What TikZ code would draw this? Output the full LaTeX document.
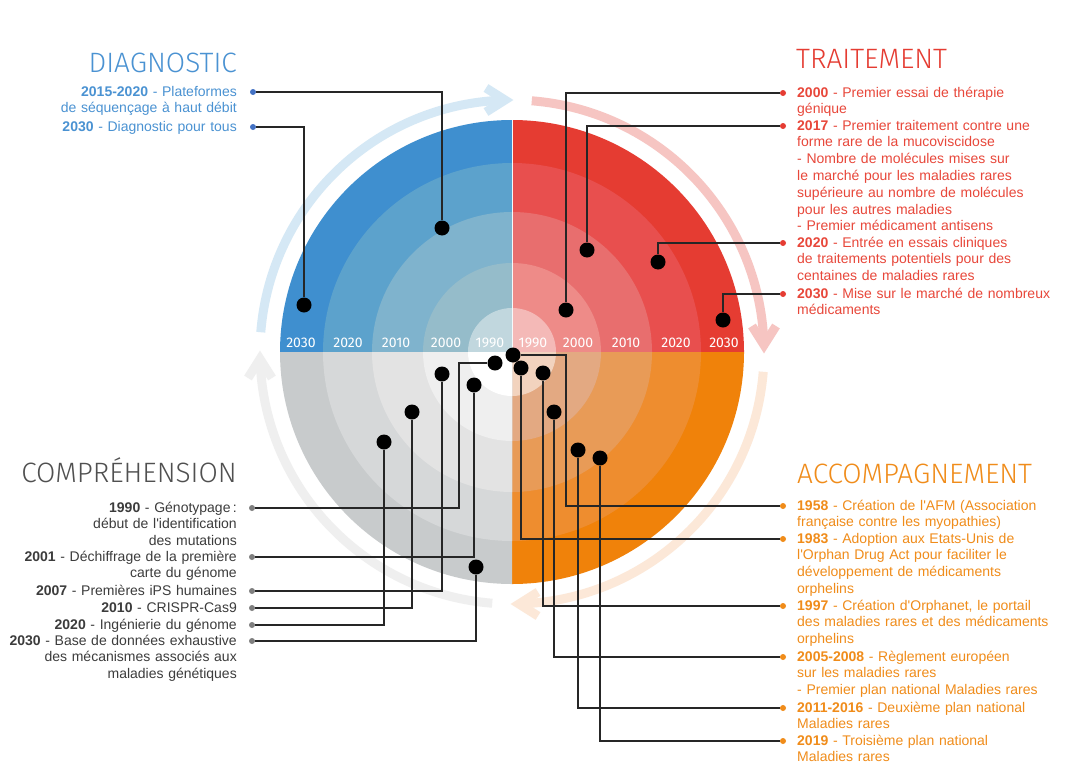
\documentclass[tikz,border=0pt]{standalone}
\usepackage{fontspec}
\setmainfont{Liberation Sans}
\newfontfamily\titrefont{Fira Sans Light}
\newfontfamily\anneefont{Fira Sans}

\definecolor{bleu1}{HTML}{C1D7DE}
\definecolor{bleu2}{HTML}{95BCCA}
\definecolor{bleu3}{HTML}{7FB3CD}
\definecolor{bleu4}{HTML}{5CA2CC}
\definecolor{bleu5}{HTML}{3F8FCF}
\definecolor{rouge1}{HTML}{F4B9B7}
\definecolor{rouge2}{HTML}{EE8B88}
\definecolor{rouge3}{HTML}{E86E6E}
\definecolor{rouge4}{HTML}{E84F4E}
\definecolor{rouge5}{HTML}{E53C32}
\definecolor{orange1}{HTML}{F2D3BE}
\definecolor{orange2}{HTML}{E3A982}
\definecolor{orange3}{HTML}{E89B57}
\definecolor{orange4}{HTML}{EE8D2F}
\definecolor{orange5}{HTML}{F0820A}
\definecolor{gris1}{HTML}{FFFFFF}
\definecolor{gris2}{HTML}{EFEFEF}
\definecolor{gris3}{HTML}{E3E3E3}
\definecolor{gris4}{HTML}{D6D8D9}
\definecolor{gris5}{HTML}{C8CBCC}
\definecolor{fbleu}{HTML}{D5E8F5}
\definecolor{frouge}{HTML}{F6C5C2}
\definecolor{forange}{HTML}{FCE8D8}
\definecolor{fgris}{HTML}{EFEFEF}
\definecolor{tbleu}{HTML}{4A92D2}
\definecolor{trouge}{HTML}{E8473A}
\definecolor{torange}{HTML}{F08C1A}
\definecolor{tgris}{HTML}{3C3C3C}
\definecolor{pbleu}{HTML}{4472C4}
\definecolor{pgris}{HTML}{7F7F7F}

\newcommand{\apos}{\textquotesingle}

\tikzset{
  point/.style={circle, fill=black, inner sep=0pt, minimum size=15pt},
  puce/.style={circle, inner sep=0pt, minimum size=6pt},
  lien/.style={draw=black!85, line width=1.1pt},
  titre/.style={font=\titrefont\fontsize{28}{30}\selectfont, inner sep=0pt},
  texte/.style={font=\fontsize{14}{16.8}\selectfont, inner sep=0pt, text width=300pt},
  texteg/.style={texte, anchor=base east, align=right},
  texted/.style={texte, anchor=base west, align=left},
  annee/.style={font=\anneefont\fontsize{14}{14}\selectfont, text=white, inner sep=0pt, anchor=base},
  fleche/.style={line width=9pt}
}

\begin{document}
\begin{tikzpicture}[x=1pt, y=1pt]

    \fill[white] (0,0) rectangle (1070,-779);
    \useasboundingbox (0,0) rectangle (1070,-779);
    \coordinate (c) at (512,-352);

    % quarts de disque
    \foreach \q/\a in {bleu/90, rouge/0, orange/-90, gris/180} {
        \foreach \i/\r in {5/232, 4/189, 3/140, 2/89, 1/44} {
            \fill[\q\i] (c) -- ++(\a:\r) arc[start angle=\a, end angle=\a+90, radius=\r] -- cycle;
        }
    }
    \draw[white!85!bleu1, line width=0.6pt] (c) -- ++(0,232);

    % fleches autour
    \foreach \col/\a in {fbleu/180, frouge/90, forange/0, fgris/-90} {
        \draw[fleche, \col] (c) ++(\a-4.5:252) arc[start angle=\a-4.5, end angle=\a-88, radius=252];
        \draw[fleche, \col, shift={(c)}, shift={(\a-90:252)}, rotate=\a-180] (-26,12) -- (-7,0) -- (-26,-12);
    }

    % annees
    \foreach \an/\d in {2030/211, 2020/164, 2010/116, 2000/66, 1990/22} {
        \node[annee] (g\an) at (512-\d,-347) {\an};
    }
    \foreach \an/\d in {1990/21, 2000/66, 2010/114, 2020/164, 2030/212} {
        \node[annee] (d\an) at (512+\d,-347) {\an};
    }

    % titres
    \node[titre, anchor=base east, text=tbleu] (diag) at (237,-72) {DIAGNOSTIC};
    \node[titre, anchor=base west, text=rouge5] (trait) at (796,-68) {TRAITEMENT};
    \node[titre, anchor=base east, text=tgris!90] (compr) at (237,-482) {COMPRÉHENSION};
    \node[titre, anchor=base west, text=torange] (accomp) at (797,-483) {ACCOMPAGNEMENT};

    % textes
    \node[texteg, text=tbleu] (b1) at (237,-96)
        {\textbf{2015-2020} - Plateformes\\de séquençage à haut débit};
    \node[texteg, text=tbleu] (b2) at (237,-131)
        {\textbf{2030} - Diagnostic pour tous};

    \node[texted, text=trouge] (r1) at (797,-97)
        {\textbf{2000} - Premier essai de thérapie\\génique};
    \node[texted, text=trouge] (r2) at (797,-130)
        {\textbf{2017} - Premier traitement contre une\\forme rare de la mucoviscidose\\- Nombre de molécules mises sur\\le marché pour les maladies rares\\supérieure au nombre de molécules\\pour les autres maladies\\- Premier médicament antisens};
    \node[texted, text=trouge] (r3) at (797,-247)
        {\textbf{2020} - Entrée en essais cliniques\\de traitements potentiels pour des\\centaines de maladies rares};
    \node[texted, text=trouge] (r4) at (797,-298)
        {\textbf{2030} - Mise sur le marché de nombreux\\médicaments};

    \node[texted, text=torange] (o1) at (797,-510)
        {\textbf{1958} - Création de l\apos AFM (Association\\française contre les myopathies)};
    \node[texted, text=torange] (o2) at (797,-543)
        {\textbf{1983} - Adoption aux Etats-Unis de\\l\apos Orphan Drug Act pour faciliter le\\développement de médicaments\\orphelins};
    \node[texted, text=torange] (o3) at (797,-610)
        {\textbf{1997} - Création d\apos Orphanet, le portail\\des maladies rares et des médicaments\\orphelins};
    \node[texted, text=torange] (o4) at (797,-661)
        {\textbf{2005-2008} - Règlement européen\\sur les maladies rares\\- Premier plan national Maladies rares};
    \node[texted, text=torange] (o5) at (797,-712)
        {\textbf{2011-2016} - Deuxième plan national\\Maladies rares};
    \node[texted, text=torange] (o6) at (797,-745)
        {\textbf{2019} - Troisième plan national\\Maladies rares};

    \node[texteg, text=tgris] (g1) at (237,-512)
        {\textbf{1990} - Génotypage\,:\\début de l\apos identification\\des mutations};
    \node[texteg, text=tgris] (g2) at (237,-561)
        {\textbf{2001} - Déchiffrage de la première\\carte du génome};
    \node[texteg, text=tgris] (g3) at (237,-595)
        {\textbf{2007} - Premières iPS humaines};
    \node[texteg, text=tgris] (g4) at (237,-612)
        {\textbf{2010} - CRISPR-Cas9};
    \node[texteg, text=tgris] (g5) at (237,-629)
        {\textbf{2020} - Ingénierie du génome};
    \node[texteg, text=tgris] (g6) at (237,-645)
        {\textbf{2030} - Base de données exhaustive\\des mécanismes associés aux\\maladies génétiques};

    % points et liens
    \foreach \nom/\y/\x/\yy in {1/92/442/228, 2/127/304/305} {
        \node[puce, fill=pbleu] (pb\nom) at (253,-\y) {};
        \node[point] (db\nom) at (\x,-\yy) {};
        \draw[lien] (pb\nom) -| (db\nom);
    }
    \foreach \nom/\y/\x/\yy in {1/93/566/310, 2/126/587/250, 3/243/658/262, 4/294/723/320} {
        \node[puce, fill=rouge5] (pr\nom) at (783,-\y) {};
        \node[point] (dr\nom) at (\x,-\yy) {};
        \draw[lien] (pr\nom) -| (dr\nom);
    }
    \foreach \nom/\y/\x/\yy in {2/539/521/368, 3/606/543/373, 4/657/554/412, 5/708/578/450, 6/741/600/458} {
        \node[puce, fill=torange] (po\nom) at (783,-\y) {};
        \node[point] (do\nom) at (\x,-\yy) {};
        \draw[lien] (po\nom) -| (do\nom);
    }
    \foreach \nom/\y/\x/\yy in {2/557/474/385, 3/591/442/374, 4/608/412/412, 5/625/384/442, 6/641/476/567} {
        \node[puce, fill=pgris] (pg\nom) at (252,-\y) {};
        \node[point] (dg\nom) at (\x,-\yy) {};
        \draw[lien] (pg\nom) -| (dg\nom);
    }

    \node[puce, fill=torange] (po1) at (783,-506) {};
    \node[point] (do1) at (513,-355) {};
    \coordinate (ko1) at (566,-355);
    \draw[lien] (po1) -| (ko1) -- (do1);

    \node[puce, fill=pgris] (pg1) at (252,-508) {};
    \node[point] (dg1) at (495,-363) {};
    \coordinate (kg1) at (459,-363);
    \draw[lien] (pg1) -| (kg1) -- (dg1);

\end{tikzpicture}
\end{document}
